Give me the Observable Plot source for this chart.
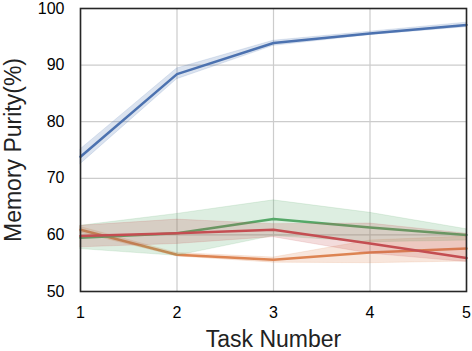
<!DOCTYPE html>
<html><head><meta charset="utf-8">
<script src="https://cdn.jsdelivr.net/npm/d3@7"></script>
<script src="https://cdn.jsdelivr.net/npm/@observablehq/plot@0.6"></script>
<style>body{margin:0;background:#fff;} svg{display:block;}</style>
</head><body><div id="chart"></div>
<script>
const tasks = [1, 2, 3, 4, 5];
const seriesNames = ["A", "B", "C", "D"];
const seriesColors = ["#4c72b0", "#dd8452", "#55a868", "#c44e52"];
const blueMean = [73.8, 88.4, 93.9, 95.6, 97.1];
const blueLo   = [72.5, 87.5, 93.4, 95.3, 96.7];
const blueHi   = [75.1, 89.4, 94.3, 95.9, 97.5];
const orangeMean = [60.9, 56.5, 55.6, 56.9, 57.6];
const orangeLo   = [60.4, 56.2, 55.1, 55.0, 55.3];
const orangeHi   = [61.4, 56.8, 56.0, 59.0, 59.7];
const greenMean = [59.5, 60.3, 62.8, 61.3, 60.0];
const greenLo   = [57.5, 56.3, 59.8, 58.7, 59.0];
const greenHi   = [61.6, 63.7, 66.1, 63.9, 61.0];
const redMean = [59.8, 60.3, 60.9, 58.5, 55.9];
const redLo   = [57.8, 58.4, 59.6, 56.7, 55.2];
const redHi   = [61.6, 62.7, 61.9, 62.0, 60.2];
const yTicks = [50, 60, 70, 80, 90, 100];

const means = [blueMean, orangeMean, greenMean, redMean];
const los = [blueLo, orangeLo, greenLo, redLo];
const his = [blueHi, orangeHi, greenHi, redHi];
const rows = [];
seriesNames.forEach((s, i) => tasks.forEach((t, j) => rows.push({s, t, m: means[i][j], lo: los[i][j], hi: his[i][j]})));

const marks = [Plot.gridX(tasks, {stroke: "#cccccc", strokeOpacity: 1, strokeWidth: 1.2}),
               Plot.gridY(yTicks, {stroke: "#cccccc", strokeOpacity: 1, strokeWidth: 1.2})];
seriesNames.forEach((s, i) => {
  const d = rows.filter(r => r.s === s);
  marks.push(Plot.areaY(d, {x: "t", y1: "lo", y2: "hi", fill: seriesColors[i], fillOpacity: 0.2, stroke: seriesColors[i], strokeOpacity: 0.15, strokeWidth: 1}));
  marks.push(Plot.line(d, {x: "t", y: "m", stroke: seriesColors[i], strokeWidth: 2.5}));
});
marks.push(Plot.frame({stroke: "#262626", strokeWidth: 1.6}));

const chart = Plot.plot({
  width: 472, height: 351,
  marginLeft: 80, marginRight: 6, marginTop: 8, marginBottom: 60,
  style: {fontFamily: "'Liberation Sans', Arial, sans-serif", fontSize: "16px", color: "#000", background: "#fff"},
  x: {domain: [1, 5], ticks: tasks, tickSize: 0, tickPadding: 15, tickFormat: d3.format("d"), label: "Task Number", labelAnchor: "center", labelOffset: 55},
  y: {domain: [50, 100], ticks: yTicks, tickSize: 0, tickPadding: 16, label: "Memory Purity(%)", labelAnchor: "center", labelOffset: 76},
  marks
});
chart.querySelectorAll("g[aria-label='x-axis label'] text, g[aria-label='y-axis label'] text").forEach(t => {
  t.setAttribute("font-size", "23px");
  t.setAttribute("fill", "#222");
  t.textContent = t.textContent.replace(/[\s\u2191\u2192\u2190\u2193]+$/, "").replace(/^[\u2191\u2192\u2190\u2193\s]+/, "");
});
document.getElementById("chart").appendChild(chart);
</script></body></html>
